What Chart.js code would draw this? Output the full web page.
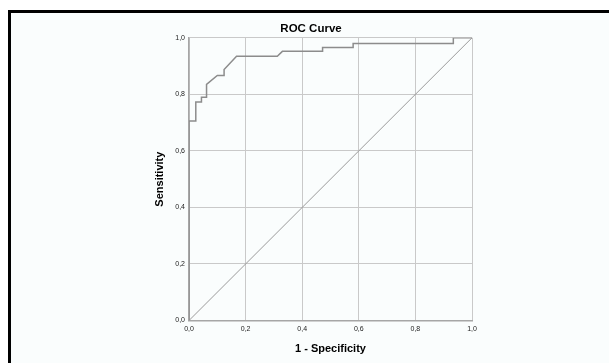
<!DOCTYPE html>
<html>
<head>
<meta charset="utf-8">
<script src="https://cdn.jsdelivr.net/npm/chart.js@4"></script>
<style>
  html, body { margin: 0; padding: 0; background: #ffffff; }
  canvas { display: block; }
</style>
</head>
<body>
<canvas id="rocChart" width="609" height="363"></canvas>
<script>
// ROC curve points (1 - specificity, sensitivity)
const fpr = [0, 0, 0.024, 0.024, 0.044, 0.044, 0.062, 0.062, 0.1, 0.124, 0.124, 0.168, 0.312, 0.33, 0.472, 0.472, 0.58, 0.58, 0.934, 0.934, 1];
const tpr = [0, 0.706, 0.706, 0.773, 0.773, 0.79, 0.79, 0.835, 0.867, 0.867, 0.888, 0.935, 0.935, 0.952, 0.952, 0.966, 0.966, 0.98, 0.98, 1, 1];
const refX = [0, 1];
const refY = [0, 1];
const tickLabels = ["0,0", "0,2", "0,4", "0,6", "0,8", "1,0"];

const toPoints = (xs, ys) => xs.map((x, i) => ({ x: x, y: ys[i] }));

// background + black frame (top and left edges only)
const frame = {
  id: "frame",
  beforeDraw(chart) {
    const c = chart.ctx;
    c.save();
    c.fillStyle = "#ffffff";
    c.fillRect(0, 0, chart.width, chart.height);
    c.fillStyle = "#fafdfd";
    c.fillRect(8, 10, chart.width - 8, chart.height - 10);
    c.fillStyle = "#000000";
    c.fillRect(8, 10, chart.width - 8, 3);
    c.fillRect(8, 10, 3, chart.height - 10);
    c.restore();
  },
};

const ctx = document.getElementById("rocChart").getContext("2d");
const rocChart = new Chart(ctx, {
  type: "scatter",
  data: {
    datasets: [
      {
        label: "ROC",
        data: toPoints(fpr, tpr),
        showLine: true,
        borderColor: "#8c8c8c",
        borderWidth: 1.5,
        pointRadius: 0,
        tension: 0,
      },
      {
        label: "Reference",
        data: toPoints(refX, refY),
        showLine: true,
        borderColor: "#9a9a9a",
        borderWidth: 1,
        pointRadius: 0,
      },
    ],
  },
  options: {
    responsive: false,
    animation: false,
    layout: { padding: { left: 150, right: 137, top: 0, bottom: 0 } },
    plugins: {
      legend: { display: false },
      tooltip: { enabled: false },
      title: {
        display: true,
        text: "ROC Curve",
        color: "#000000",
        font: { family: "Liberation Sans, Arial, sans-serif", size: 11.5, weight: "bold" },
        padding: { top: 22.4, bottom: 1.6 },
      },
    },
    scales: {
      x: {
        type: "linear",
        min: 0,
        max: 1,
        ticks: {
          stepSize: 0.2,
          padding: 4,
          color: "#222222",
          font: { family: "Liberation Sans, Arial, sans-serif", size: 7 },
          maxRotation: 0,
          callback: (v, i) => tickLabels[i],
        },
        grid: { color: "#c9c9c9", lineWidth: 1, drawTicks: false },
        border: { color: "#a6a6a6", width: 1.5 },
        title: {
          display: true,
          text: "1 - Specificity",
          color: "#000000",
          font: { family: "Liberation Sans, Arial, sans-serif", size: 11, weight: "bold" },
          padding: { top: 0, bottom: 7.4 },
        },
        afterFit: (scale) => { scale.height = 42.5; },
      },
      y: {
        type: "linear",
        min: 0,
        max: 1,
        ticks: {
          stepSize: 0.2,
          padding: 4,
          color: "#222222",
          font: { family: "Liberation Sans, Arial, sans-serif", size: 7 },
          callback: (v, i) => tickLabels[i],
        },
        grid: { color: "#c9c9c9", lineWidth: 1, drawTicks: false },
        border: { color: "#a6a6a6", width: 1.5 },
        title: {
          display: true,
          text: "Sensitivity",
          color: "#000000",
          font: { family: "Liberation Sans, Arial, sans-serif", size: 11, weight: "bold" },
          padding: { top: 3.4, bottom: 0 },
        },
        afterFit: (scale) => { scale.width = 39; },
      },
    },
  },
  plugins: [frame],
});
</script>
</body>
</html>
